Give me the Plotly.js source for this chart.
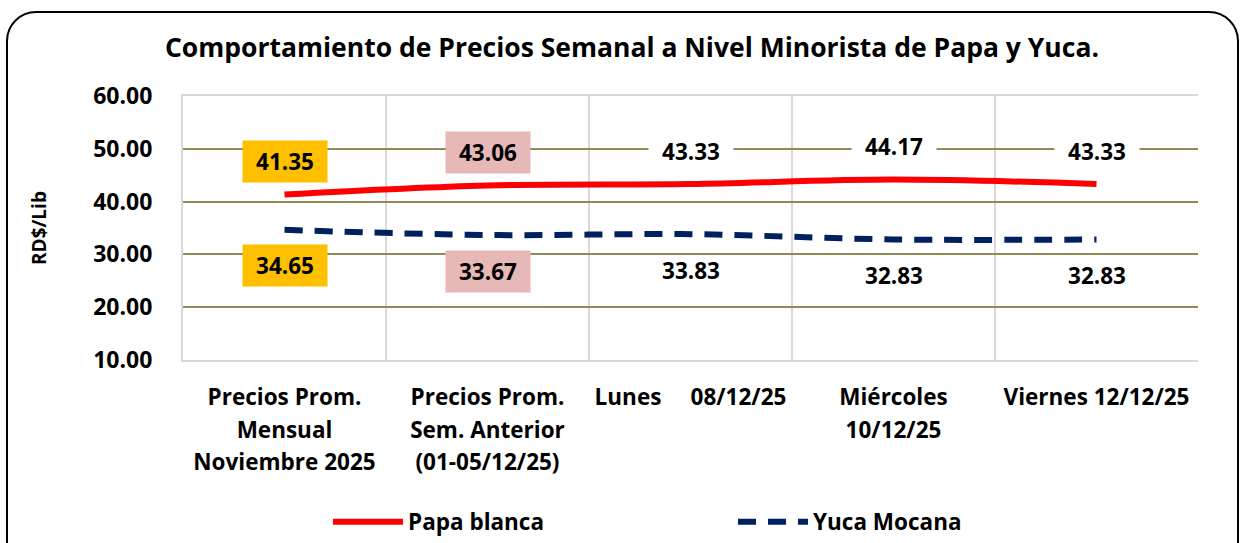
<!DOCTYPE html>
<html>
<head>
<meta charset="utf-8">
<script src="https://cdn.plot.ly/plotly-3.0.1.min.js"></script>
<style>
  body { margin: 0; width: 1244px; height: 543px; overflow: hidden; background: white; position: relative; }
  #frame { position: absolute; left: 6px; top: 11px; width: 1233px; height: 570px; border: 2px solid #000; border-radius: 30px; box-sizing: border-box; }
  #chart { position: absolute; left: 0; top: 0; width: 1244px; height: 543px; }
</style>
</head>
<body>
<div id="frame"></div>
<div id="chart"></div>
<script>
// categorías del eje X
const categories = ["nov", "semAnt", "lun", "mie", "vie"];
const tickLabels = [
    "Precios Prom.<br>Mensual<br>Noviembre 2025",
    "Precios Prom.<br>Sem. Anterior<br>(01-05/12/25)",
    "Lunes\u00a0\u00a0\u00a0\u00a0\u00a008/12/25",
    "Miércoles<br>10/12/25",
    "Viernes 12/12/25"
];
// precios RD$/Lib
const papaBlanca = [41.35, 43.06, 43.33, 44.17, 43.33];
const yucaMocana = [34.65, 33.67, 33.83, 32.83, 32.83];
// fondo de las etiquetas
const papaLabelBg = ["#FFC000", "#E6B8B7", "white", "white", "white"];
const yucaLabelBg = ["#FFC000", "#E6B8B7", "rgba(0,0,0,0)", "rgba(0,0,0,0)", "rgba(0,0,0,0)"];

const FONT = "'Open Sans', sans-serif";

// etiqueta multilínea: fuente grande para el interlineado, texto más pequeño
const tickText = tickLabels.map(t =>
    t.split("<br>").map(l => `<span style="font-size:22.5px">${l}</span>`).join("<br>")
);

const traces = [
    {
        x: categories,
        y: papaBlanca,
        type: "scatter",
        mode: "lines",
        name: "Papa blanca",
        line: {color: "#FF0000", width: 6, shape: "spline", smoothing: 1}
    },
    {
        x: categories,
        y: yucaMocana,
        type: "scatter",
        mode: "lines",
        name: "Yuca Mocana",
        line: {color: "#002060", width: 6, shape: "spline", smoothing: 1, dash: "18px,12px"}
    }
];

const annotations = [];
categories.forEach((c, i) => {
    annotations.push({
        x: c, y: papaBlanca[i], xref: "x", yref: "y",
        text: papaBlanca[i].toFixed(2),
        showarrow: false, yshift: 33,
        bgcolor: papaLabelBg[i], borderpad: 8, width: 68, height: 25,
        font: {family: FONT, size: 22.5, color: "#000", weight: "bold"}
    });
    annotations.push({
        x: c, y: yucaMocana[i], xref: "x", yref: "y",
        text: yucaMocana[i].toFixed(2),
        showarrow: false, yshift: -36,
        bgcolor: yucaLabelBg[i], borderpad: 8, width: 68, height: 25,
        font: {family: FONT, size: 22.5, color: "#000", weight: "bold"}
    });
});

const layout = {
    width: 1244,
    height: 543,
    margin: {l: 183, r: 46, t: 96, b: 183},
    paper_bgcolor: "rgba(0,0,0,0)",
    plot_bgcolor: "white",
    font: {family: FONT, color: "#000"},
    title: {
        text: "Comportamiento de Precios Semanal a Nivel Minorista de Papa y Yuca.",
        font: {family: FONT, size: 26.5, weight: "bold", color: "#000"},
        x: 0.508, xanchor: "center",
        y: 1 - 48 / 543, yanchor: "middle", yref: "container"
    },
    xaxis: {
        type: "category",
        tickvals: categories,
        ticktext: tickText,
        range: [-0.5, categories.length - 0.5],
        tickson: "boundaries",
        tickangle: 0,
        showgrid: true,
        gridcolor: "#D9D9D9",
        gridwidth: 2,
        showline: true,
        linecolor: "#D9D9D9",
        linewidth: 2,
        mirror: true,
        ticks: "",
        ticklabelstandoff: 13,
        tickfont: {family: FONT, size: 25, weight: "bold", color: "#000"},
        automargin: false,
        fixedrange: true
    },
    yaxis: {
        range: [10, 60],
        dtick: 10,
        tickformat: ".2f",
        showgrid: true,
        gridcolor: "#948A54",
        gridwidth: 2,
        showline: true,
        linecolor: "#D9D9D9",
        linewidth: 2,
        zeroline: false,
        ticks: "",
        ticklabelstandoff: 24,
        tickfont: {family: FONT, size: 23, weight: "bold", color: "#000"},
        title: {
            text: "RD$/Lib",
            font: {family: FONT, size: 19, weight: "bold", color: "#000"},
            standoff: 42
        },
        automargin: false,
        fixedrange: true
    },
    showlegend: true,
    legend: {
        orientation: "h",
        xref: "container", yref: "container",
        x: 328 / 1244, xanchor: "left",
        y: 1 - 522 / 543, yanchor: "middle",
        itemwidth: 70,
        entrywidth: 320,
        entrywidthmode: "pixels",
        font: {family: FONT, size: 22.5, weight: "bold", color: "#000"},
        bgcolor: "rgba(0,0,0,0)"
    },
    annotations: annotations
};

Plotly.newPlot("chart", traces, layout, {displayModeBar: false, staticPlot: true});
</script>
</body>
</html>
